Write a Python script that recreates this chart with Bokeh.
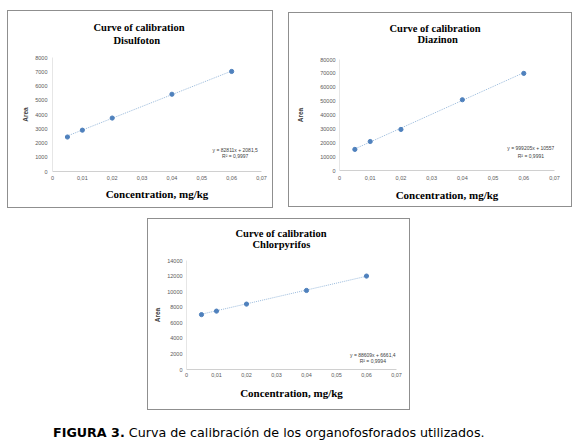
from bokeh.plotting import figure
from bokeh.layouts import column, row
from bokeh.models import Range1d, FixedTicker, CustomJSTickFormatter, Label, Title, Div
from bokeh.embed import file_html
from bokeh.resources import INLINE

# ---- data ----
conc = [0.005, 0.01, 0.02, 0.04, 0.06]

disulfoton_area = [2420, 2900, 3750, 5420, 7020]
diazinon_area = [15200, 20900, 29600, 51000, 70000]
chlorpyrifos_area = [7050, 7500, 8400, 10150, 12000]

disulfoton_fit = [82811, 2081.5]
diazinon_fit = [999205, 10557]
chlorpyrifos_fit = [88609, 6661.4]

disulfoton_eq = ["y = 82811x + 2081,5", "R² = 0,9997"]
diazinon_eq = ["y = 999205x + 10557", "R² = 0,9991"]
chlorpyrifos_eq = ["y = 88609x + 6661,4", "R² = 0,9994"]

x_ticks = [0, 0.01, 0.02, 0.03, 0.04, 0.05, 0.06, 0.07]
x_labels = ["0", "0,01", "0,02", "0,03", "0,04", "0,05", "0,06", "0,07"]

disulfoton_yticks = [0, 1000, 2000, 3000, 4000, 5000, 6000, 7000, 8000]
diazinon_yticks = [0, 10000, 20000, 30000, 40000, 50000, 60000, 70000, 80000]
chlorpyrifos_yticks = [0, 2000, 4000, 6000, 8000, 10000, 12000, 14000]

titles = ["Disulfoton", "Diazinon", "Chlorpyrifos"]
main_title = "Curve of calibration"
x_title = "Concentration, mg/kg"
y_title = "Area"
caption_bold = "FIGURA 3."
caption_text = "Curva de calibración de los organofosforados utilizados."

FMT_CODE = """
let i = 0, b = 1e99;
for (let k = 0; k < tv.length; k++) {
  const d = Math.abs(tv[k] - tick);
  if (d < b) { b = d; i = k; }
}
return lb[i];
"""


def make_panel(name, area, fit, eq, yticks, width, height, mb, title_offsets, standoffs,
               eq_pos, xstand, ystand, margin):
    p = figure(width=width, height=height, output_backend="svg", toolbar_location=None,
               x_range=Range1d(0, 0.07), y_range=Range1d(0, yticks[-1]),
               min_border_left=mb[0], min_border_right=mb[1],
               min_border_top=mb[2], min_border_bottom=mb[3],
               background_fill_color="white", border_fill_color="white",
               outline_line_color=None, margin=margin,
               styles={"border": "1.5px solid #8f8f8f"})
    p.grid.visible = False

    # titles (inner one added first)
    p.add_layout(Title(text=name, align="left", offset=title_offsets[1],
                       text_font="Liberation Serif", text_font_size="10.5px",
                       text_font_style="bold", text_color="#000000",
                       text_line_height=0.85, standoff=standoffs[1]), "above")
    p.add_layout(Title(text=main_title, align="left", offset=title_offsets[0],
                       text_font="Liberation Serif", text_font_size="10.5px",
                       text_font_style="bold", text_color="#000000",
                       text_line_height=0.85, standoff=standoffs[0]), "above")

    xa = p.xaxis[0]
    xa.ticker = FixedTicker(ticks=x_ticks)
    xa.formatter = CustomJSTickFormatter(args=dict(tv=x_ticks, lb=x_labels), code=FMT_CODE)
    xa.axis_label = x_title
    xa.axis_label_text_font = "Liberation Serif"
    xa.axis_label_text_font_style = "bold"
    xa.axis_label_text_font_size = "11px"
    xa.axis_label_text_color = "#000000"
    xa.axis_label_standoff = xstand[1]
    xa.major_label_standoff = xstand[0]

    ya = p.yaxis[0]
    ya.ticker = FixedTicker(ticks=yticks)
    ya.formatter = CustomJSTickFormatter(args=dict(tv=yticks, lb=[str(t) for t in yticks]), code=FMT_CODE)
    ya.axis_label = y_title
    ya.axis_label_text_font = "Liberation Sans"
    ya.axis_label_text_font_style = "bold"
    ya.axis_label_text_font_size = "6.5px"
    ya.axis_label_text_color = "#404040"
    ya.axis_label_standoff = ystand[1]
    ya.major_label_standoff = ystand[0]

    for ax in (xa, ya):
        ax.major_tick_line_color = None
        ax.minor_tick_line_color = None
        ax.major_tick_out = 0
        ax.major_tick_in = 0
        ax.minor_tick_out = 0
        ax.minor_tick_in = 0
        ax.major_label_text_font = "Liberation Sans"
        ax.major_label_text_font_size = "5.5px"
        ax.major_label_text_color = "#595959"
    xa.axis_line_color = "#d0d0d0"
    ya.axis_line_color = "#e6e6e6"

    # trendline from the regression equation
    tx = [conc[0], conc[-1]]
    ty = [fit[0] * v + fit[1] for v in tx]
    p.line(tx, ty, line_color="#9bbbdc", line_width=1, line_dash="1 1")
    p.scatter(conc, area, size=4.2, marker="circle", fill_color="#4f81bd", line_color="#4f81bd")

    for i, t in enumerate(eq):
        p.add_layout(Label(x=eq_pos[0], y=eq_pos[1][i], text=t, text_align="center",
                           text_baseline="middle", text_font="Liberation Sans",
                           text_font_size="5px", text_color="#404040"))
    return p


p1 = make_panel(titles[0], disulfoton_area, disulfoton_fit, disulfoton_eq, disulfoton_yticks,
                266, 198, (44, 13, 43, 38), (41, 61), (-24.6, 24),
                (0.0612, (1517, 1103)), (4, 5), (5, 3), (10, 0, 0, 7))
p2 = make_panel(titles[1], diazinon_area, diazinon_fit, diazinon_eq, diazinon_yticks,
                284, 195, (50, 19, 46, 34), (50, 78), (-35.4, 30),
                (0.0623, (16040, 10460)), (5, 6), (4, 13), (12, 0, 0, 15))
p3 = make_panel(titles[2], chlorpyrifos_area, chlorpyrifos_fit, chlorpyrifos_eq, chlorpyrifos_yticks,
                263, 192, (38, 15, 41, 42), (49, 66), (-25.6, 21),
                (0.0621, (1845, 1071)), (3, 7), (4, 3), (10, 0, 0, 147))

caption = Div(text=f"<b>{caption_bold}</b> {caption_text}", width=520,
              margin=(14, 0, 0, 53),
              styles={"font-family": "DejaVu Sans", "font-size": "12.7px", "color": "#000000"})

layout = column(row(p1, p2), row(p3), caption)
open("out.html", "w").write(file_html(layout, INLINE))
